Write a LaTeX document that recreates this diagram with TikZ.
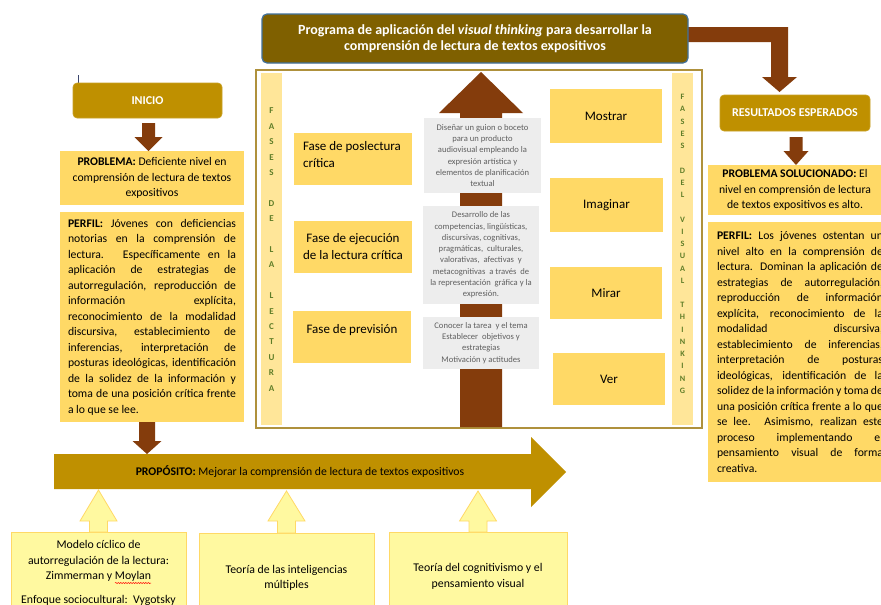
\documentclass[tikz,border=0pt]{standalone}
\usepackage{fontspec}
\setmainfont{Carlito}
\usetikzlibrary{calc,decorations.pathmorphing}
\definecolor{gold}{RGB}{191,144,0}
\definecolor{darkgold}{RGB}{127,96,0}
\definecolor{brownarr}{RGB}{132,60,12}
\definecolor{lightgold}{RGB}{255,217,102}
\definecolor{stripcol}{RGB}{255,230,153}
\definecolor{greyboxcol}{RGB}{237,237,237}
\definecolor{greytext}{RGB}{95,95,95}
\definecolor{paleyellow}{RGB}{255,249,160}
\definecolor{lettercol}{RGB}{95,125,40}
\definecolor{titleborder}{RGB}{65,113,156}
\definecolor{panelborder}{RGB}{175,145,60}
\definecolor{cursorcol}{RGB}{60,70,110}
% block arrow pointing down: #1 start, #2 tip, #3 shaft half, #4 head half, #5 head length, #6 style
\newcommand\barrowdown[6]{%
  \path[#6] let \p1=#1, \p2=#2 in
    (\x1-#3,\y1) -- (\x1+#3,\y1) -- (\x1+#3,\y2+#5) -- (\x1+#4,\y2+#5) --
    (\x1,\y2) -- (\x1-#4,\y2+#5) -- (\x1-#3,\y2+#5) -- cycle;}
\newcommand\barrowup[6]{%
  \path[#6] let \p1=#1, \p2=#2 in
    (\x1-#3,\y1) -- (\x1+#3,\y1) -- (\x1+#3,\y2-#5) -- (\x1+#4,\y2-#5) --
    (\x1,\y2) -- (\x1-#4,\y2-#5) -- (\x1-#3,\y2-#5) -- cycle;}
\begin{document}
\begin{tikzpicture}[x=1pt,y=-1pt,
  every node/.style={inner sep=0pt, outer sep=0pt},
  goldbtn/.style={fill=gold, draw=gold!85!white, line width=0.6pt, rounded corners=4pt, text=white,
    font=\bfseries\fontsize{12}{14}\selectfont, anchor=north west},
  yelbox/.style={fill=lightgold, anchor=north west},
  bodytxt/.style={font=\fontsize{11.7}{15.5}\selectfont},
  phasebox/.style={fill=lightgold, anchor=north west, font=\fontsize{13}{17}\selectfont},
  greynote/.style={fill=greyboxcol, anchor=north west, text=greytext, align=center,
    font=\fontsize{8.6}{11.3}\selectfont},
  stripbox/.style={fill=stripcol, anchor=north west, minimum width=21, minimum height=352},
  stripletter/.style={text=lettercol, font=\bfseries\fontsize{9}{9}\selectfont},
  palebox/.style={fill=paleyellow, draw=lightgold, line width=0.8pt, anchor=north west,
    align=center, font=\fontsize{11.8}{15.5}\selectfont},
  palearrow/.style={fill=paleyellow, draw=lightgold, line width=0.8pt},
]
\useasboundingbox (0,0) rectangle (881,605);
\clip (0,0) rectangle (881,605);
\fill[white] (0,0) rectangle (881,605);

% ---------- bent arrow from title to results ----------
\coordinate (bendA) at (675,27);
\coordinate (bendB) at (675,42);
\path[fill=brownarr] (bendA) -- (788,27) -- (788,77) -- (797,77) -- (779.5,92) -- (762,77)
  -- (771,77) -- (771,42) -- (bendB) -- cycle;

% ---------- title ----------
\node[fill=darkgold, draw=titleborder, line width=1.2pt, rounded corners=5pt, anchor=north west,
  minimum width=426, minimum height=49, text=white, align=center,
  font=\bfseries\fontsize{14}{16.5}\selectfont] (title) at (262,14)
  {Programa de aplicación del \textit{visual thinking} para desarrollar la\\
   comprensión de lectura de textos expositivos};

% ---------- left column ----------
\draw[cursorcol, line width=0.8pt] (78,75) -- (78,90);
\node[goldbtn, minimum width=149, minimum height=35] (inicio) at (73,83) {INICIO};
\node[yelbox, minimum width=184, minimum height=54, align=center, bodytxt] (prob) at (60,151)
  {\textbf{PROBLEMA:} Deficiente nivel en\\comprensión de lectura de textos\\expositivos};
\node[yelbox, minimum width=184, minimum height=210, text width=168, align=justify, bodytxt] (perfil) at (60,212)
  {\tolerance=10000\hyphenpenalty=10000\hbadness=10000\hfuzz=3pt
   \textbf{PERFIL:} Jóvenes con deficiencias\linebreak
   notorias en la comprensión de\linebreak
   lectura. Específicamente en la\linebreak
   aplicación de estrategias de\linebreak
   autorregulación, reproducción de\linebreak
   información explícita,\linebreak
   reconocimiento de la modalidad\linebreak
   discursiva, establecimiento de\linebreak
   inferencias, interpretación de\linebreak
   posturas ideológicas, identificación\linebreak
   de la solidez de la información y\linebreak
   toma de una posición crítica frente\linebreak
   a lo que se lee.};
\barrowdown{($(inicio.south)+(1,5)$)}{(prob.north)}{6.5pt}{14pt}{14pt}{fill=brownarr}

% ---------- purpose arrow ----------
\coordinate (bandtl) at (54,454);
\coordinate (bandbl) at (54,489);
\path[fill=gold] (bandtl) -- (531,454) -- (531,437) -- (566,472) -- (531,507) -- (531,489) -- (bandbl) -- cycle;
\node[bodytxt] (purpose) at (300,472) {\textbf{PROPÓSITO:} Mejorar la comprensión de lectura de textos expositivos};
\barrowdown{($(perfil.south)+(-5,0)$)}{(bandtl)}{8pt}{14.5pt}{13pt}{fill=brownarr}

% ---------- bottom theory boxes ----------
\node[palebox, minimum width=175, minimum height=82] (m1) at (11,532)
  {Modelo cíclico de\\autorregulación de la lectura:\\Zimmerman y Moylan\\[8.5pt]Enfoque sociocultural:\ \ Vygotsky};
\node[palebox, minimum width=175, minimum height=90] (m2) at (199,533)
  {Teoría de las inteligencias\\múltiples};
\node[palebox, minimum width=178, minimum height=89] (m3) at (389,532)
  {Teoría del cognitivismo y el\\pensamiento visual};
\barrowup{(m1.north)}{($(bandbl)+(0,1)$)}{9pt}{18.5pt}{31pt}{palearrow}
\barrowup{(m2.north)}{($(bandbl)+(0,2)$)}{9pt}{18.5pt}{30pt}{palearrow}
\barrowup{(m3.north)}{($(bandbl)+(0,2)$)}{9pt}{18.5pt}{30pt}{palearrow}
\draw[red, line width=0.5pt, decorate, decoration={snake, amplitude=0.6pt, segment length=2.5pt}]
  (115,583) -- (151,583);

% ---------- central panel ----------
\node[draw=panelborder, line width=1.2pt, anchor=north west, minimum width=446, minimum height=358] (panel) at (256,70) {};
\node[stripbox] (stripL) at (261,73) {};
\node[stripbox] (stripR) at (672,73) {};
\foreach \l [count=\i] in {F,A,S,E,S,,D,E,,L,A,,L,E,C,T,U,R,A}
  \node[stripletter] (ll\i) at (271.5,{111+(\i-1)*15.4}) {\l};
\foreach \l [count=\i] in {F,A,S,E,S,,D,E,L,,V,I,S,U,A,L,,T,H,I,N,K,I,N,G}
  \node[stripletter, font=\bfseries\fontsize{8.2}{8.2}\selectfont] (lr\i) at (682.5,{97+(\i-1)*12.24}) {\l};

\coordinate (cbase) at (481,427);
\coordinate (ctip) at (481,72);
\barrowup{(cbase)}{(ctip)}{21pt}{42pt}{41pt}{fill=brownarr}

\node[greynote, minimum width=117, minimum height=75] (g1) at (424,118)
  {Diseñar un guion o boceto\\para un producto\\audiovisual empleando la\\expresión artística y\\elementos de planificación\\textual};
\node[greynote, minimum width=116, minimum height=98] (g2) at (423,206)
  {Desarrollo de las\\competencias, lingüísticas,\\discursivas, cognitivas,\\pragmáticas,\ \ culturales,\\valorativas,\ \ afectivas\ \ y\\metacognitivas\ \ a través\ \ de\\la representación\ \ gráfica y la\\expresión.};
\node[greynote, minimum width=116, minimum height=52] (g3) at (423,317)
  {Conocer la tarea\ \ y el tema\\Establecer\ \ objetivos y\\estrategias\\Motivación y actitudes};

\node[phasebox, minimum width=118, minimum height=52] (p1) at (294,133) {};
\node[font=\fontsize{13}{17}\selectfont, align=left, anchor=west] (p1t) at (303,154.5)
  {Fase de poslectura\\crítica};
\node[phasebox, minimum width=118, minimum height=52, align=center] (p2) at (294,221)
  {Fase de ejecución\\de la lectura crítica};
\node[phasebox, minimum width=118, minimum height=52, align=center] (p3) at (293,311)
  {Fase de previsión\\\mbox{}};

\node[phasebox, minimum width=112, minimum height=54] (mostrar) at (550,89) {Mostrar};
\node[phasebox, minimum width=113, minimum height=54] (imaginar) at (550,178) {Imaginar};
\node[phasebox, minimum width=112, minimum height=52] (mirar) at (550,267) {Mirar};
\node[phasebox, minimum width=112, minimum height=52] (ver) at (553,353) {Ver};

% ---------- right column ----------
\node[goldbtn, minimum width=150, minimum height=36] (res) at (720,95) {RESULTADOS ESPERADOS};
\node[yelbox, minimum width=174, minimum height=50, align=center, bodytxt] (sol) at (708,165)
  {\textbf{PROBLEMA SOLUCIONADO:} El\\nivel en comprensión de lectura\\de textos expositivos\ es alto.};
\barrowdown{($(res.south)+(1,6)$)}{(sol.north)}{6.5pt}{12.5pt}{14pt}{fill=brownarr}
\node[yelbox, minimum width=184, minimum height=260, text width=166, align=justify, bodytxt] (perfil2) at (708,222)
  {\tolerance=10000\hyphenpenalty=10000\hbadness=10000\hfuzz=5pt
   \textbf{PERFIL:} Los jóvenes ostentan un\linebreak
   nivel alto en la comprensión de\linebreak
   lectura. Dominan la aplicación de\linebreak
   estrategias de autorregulación,\linebreak
   reproducción de información\linebreak
   explícita, reconocimiento de la\linebreak
   modalidad discursiva,\linebreak
   establecimiento de inferencias,\linebreak
   interpretación de posturas\linebreak
   ideológicas, identificación de la\linebreak
   solidez de la información y toma de\linebreak
   una posición crítica frente a lo que\linebreak
   se lee. Asimismo, realizan este\linebreak
   proceso implementando el\linebreak
   pensamiento visual de forma\linebreak
   creativa.};
\end{tikzpicture}
\end{document}
